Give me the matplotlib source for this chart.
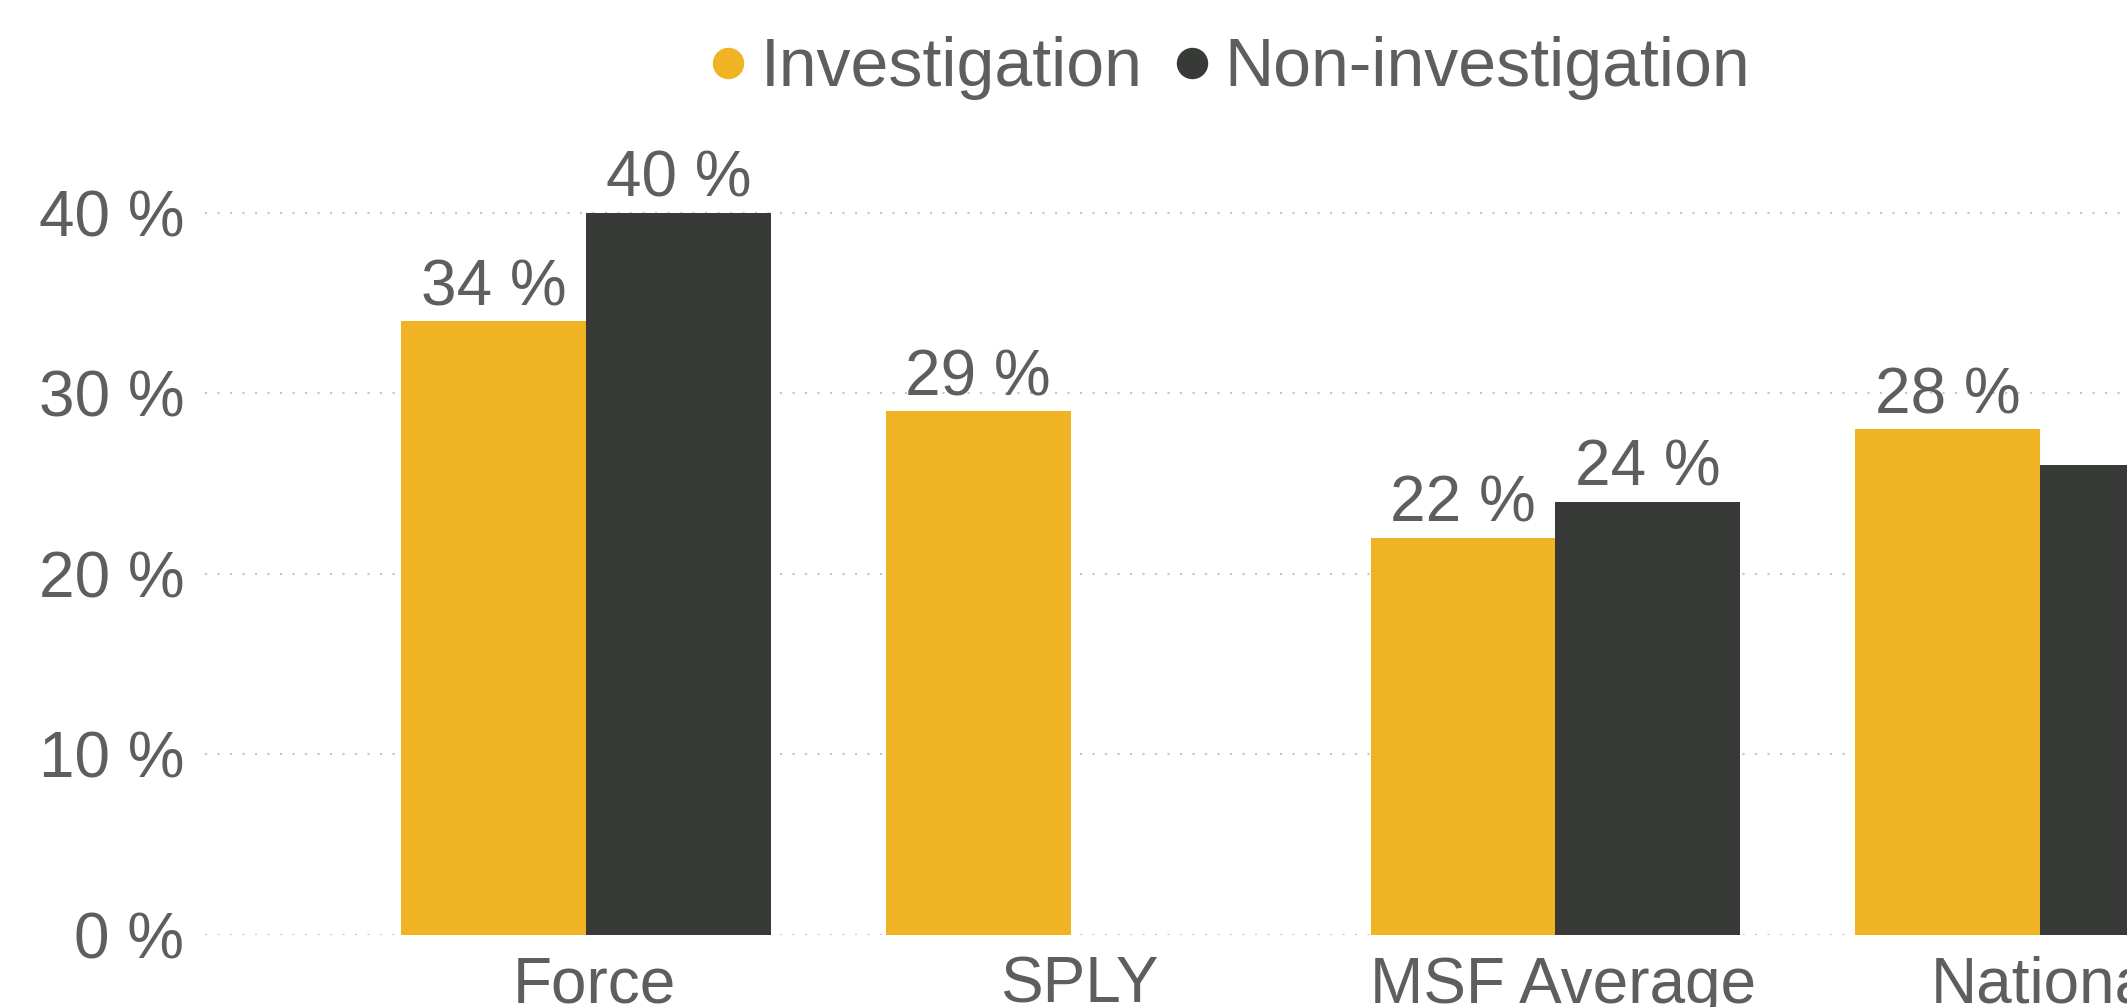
import numpy as np
import matplotlib
matplotlib.use("Agg")
import matplotlib.pyplot as plt
from matplotlib.lines import Line2D
from matplotlib.transforms import ScaledTranslation

plt.rcParams['font.family'] = ['Liberation Sans', 'DejaVu Sans']

# data
categories = ['Force', 'SPLY', 'MSF Average', 'National']
investigation = [34, 29, 22, 28]
non_investigation = [40, np.nan, 24, 26]
series_names = ['Investigation', 'Non-investigation']

yellow = '#EFB324'
dark = '#373A36'
grey = '#605E5C'

fig = plt.figure(figsize=(21.27, 10.07), dpi=100)
ax = fig.add_axes([0.0964, 0.0715, 0.9036, 0.807])

x = np.arange(len(categories))
w = 0.381
b1 = ax.bar(x - w / 2, investigation, w, color=yellow)
b2 = ax.bar(x + w / 2, non_investigation, w, color=dark)

# data labels
for bars, vals in [(b1, investigation), (b2, non_investigation)]:
    for r, v in zip(bars, vals):
        if np.isnan(v):
            continue
        ax.annotate(f'{v:.0f} %', (r.get_x() + r.get_width() / 2, v),
                    xytext=(0, 11.5), textcoords='offset points',
                    ha='center', va='baseline', fontsize=46, color=grey)

ax.set_xlim(-0.786, 3.18)
ax.set_ylim(0, 45)
ax.set_yticks([0, 10, 20, 30, 40])
ax.set_yticklabels([f'{t} %' for t in [0, 10, 20, 30, 40]])
ax.set_xticks(x)
ax.set_xticklabels(categories)
ax.tick_params(axis='both', length=0, labelsize=46, labelcolor=grey)
ax.tick_params(axis='y', pad=15)
ax.tick_params(axis='x', pad=15)
# category labels sit a little right of the group centre in the original
shift = ScaledTranslation(6 / 72, 0, fig.dpi_scale_trans)
for lbl in ax.get_xticklabels():
    lbl.set_transform(lbl.get_transform() + shift)
for s in ax.spines.values():
    s.set_visible(False)
ax.yaxis.grid(True, color='#C8C6C4', linestyle=(0, (1, 5)), linewidth=1.5)
ax.set_axisbelow(True)

handles = [Line2D([], [], marker='o', linestyle='', markersize=21.6,
                  markerfacecolor=c, markeredgecolor=c) for c in (yellow, dark)]
fig.legend(handles, series_names, loc='center', bbox_to_anchor=(0.579, 0.932),
           ncol=2, frameon=False, fontsize=49, labelcolor=grey,
           handlelength=0.45, handletextpad=0.25, columnspacing=0.5,
           borderpad=0, borderaxespad=0)

fig.savefig('out.png', dpi=100)
